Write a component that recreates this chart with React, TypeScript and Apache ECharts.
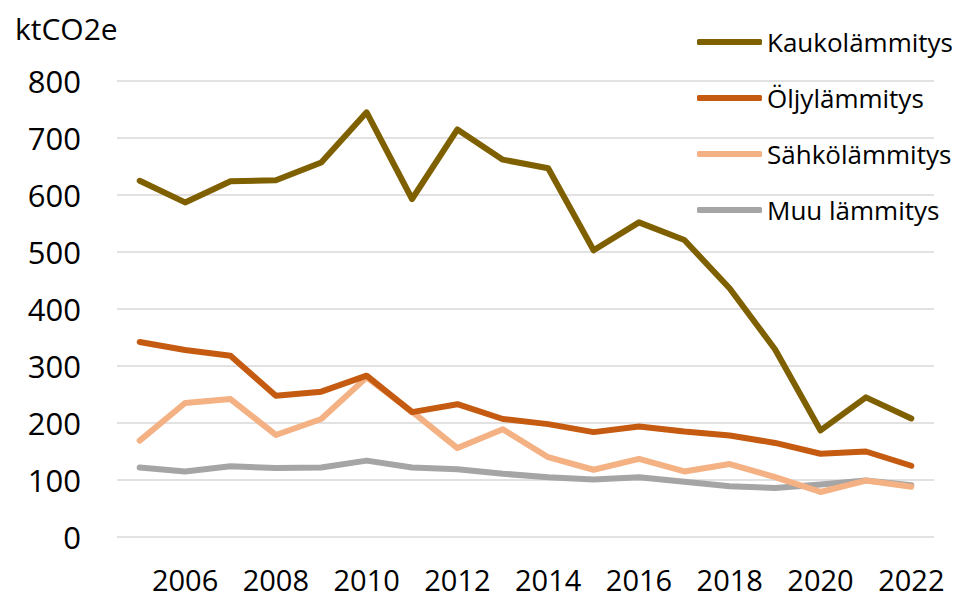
import React, { useEffect, useRef } from "react";
import * as echarts from "echarts";

const years = ["2005","2006","2007","2008","2009","2010","2011","2012","2013","2014","2015","2016","2017","2018","2019","2020","2021","2022"];
const kauko = [625, 587, 624, 626, 657, 745, 593, 715, 662, 647, 503, 552, 521, 436, 329, 187, 245, 208];
const oljy = [342, 328, 318, 248, 255, 283, 219, 233, 207, 198, 184, 194, 185, 178, 165, 146, 150, 125];
const sahko = [169, 235, 242, 179, 207, 280, 220, 156, 189, 140, 118, 137, 115, 128, 105, 79, 99, 88];
const muu = [122, 115, 124, 121, 122, 134, 122, 119, 111, 105, 101, 105, 97, 89, 86, 92, 99, 91];
const seriesNames = ["Kaukolämmitys", "Öljylämmitys", "Sähkölämmitys", "Muu lämmitys"];
const colors = ["#7F6000", "#C55A11", "#F4B183", "#A5A5A5"];

const FONT = "'Open Sans', sans-serif";

export default function App() {
  const ref = useRef<HTMLDivElement>(null);
  useEffect(() => {
    document.body.style.margin = "0";
    const chart = echarts.init(ref.current!, null, { renderer: "svg" });
    const data = [kauko, oljy, sahko, muu];
    chart.setOption({
      animation: false,
      textStyle: { fontFamily: FONT },
      title: {
        text: "ktCO2e",
        left: 10,
        top: 8,
        textStyle: { fontFamily: FONT, fontSize: 30, fontWeight: "normal", color: "#000" },
      },
      legend: {
        orient: "vertical",
        left: 692,
        top: 22,
        itemWidth: 65,
        itemHeight: 6,
        itemGap: 26,
        icon: "roundRect",
        textStyle: { fontFamily: FONT, fontSize: 26, color: "#000", lineHeight: 30 },
        data: seriesNames,
      },
      grid: { left: 117, right: 29, top: 81, bottom: 63 },
      xAxis: {
        type: "category",
        data: years,
        boundaryGap: true,
        axisLine: { show: false },
        axisTick: { show: false },
        axisLabel: {
          interval: (idx: number) => idx % 2 === 1,
          fontFamily: FONT,
          fontSize: 29,
          lineHeight: 26,
          color: "#000",
          margin: 29,
        },
      },
      yAxis: {
        type: "value",
        min: 0,
        max: 800,
        interval: 100,
        axisLine: { show: false },
        axisTick: { show: false },
        axisLabel: { fontFamily: FONT, fontSize: 31, color: "#000", margin: 36 },
        splitLine: { lineStyle: { color: "#D9D9D9", width: 1.5 } },
      },
      series: seriesNames.map((name, i) => ({
        name,
        type: "line",
        data: data[i],
        symbol: "none",
        color: colors[i],
        lineStyle: { width: 6, color: colors[i], cap: "round", join: "round" },
        z: 10 - i,
      })),
    });
    return () => chart.dispose();
  }, []);
  return <div ref={ref} style={{ width: 963, height: 600 }} />;
}
